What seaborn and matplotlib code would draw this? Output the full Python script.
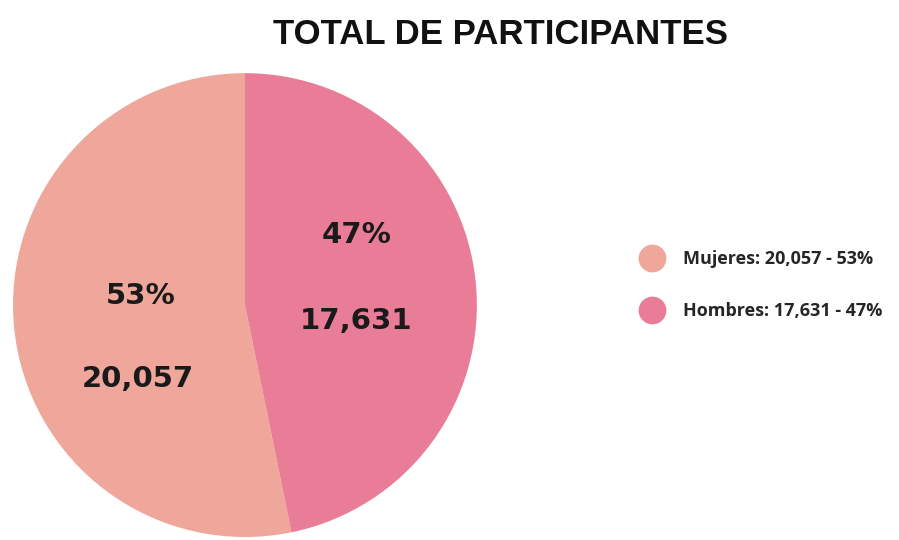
import numpy as np
import matplotlib
matplotlib.use('Agg')
import matplotlib.pyplot as plt
from matplotlib.lines import Line2D
import seaborn as sns

categorias = ['Mujeres', 'Hombres']
valores = [20057, 17631]
porcentajes = [53, 47]

sns.set_theme(style="white")
plt.rcParams['font.family'] = ['DejaVu Sans']
colores = ['#efa79b', '#e97d97']

fig = plt.figure(figsize=(8.99, 5.40), dpi=100)
ax = fig.add_axes([0.01446, 0.00556, 0.516, 0.859])
wedges, _ = ax.pie(valores, colors=colores, startangle=90, counterclock=True,
                   wedgeprops=dict(linewidth=0))
ax.set_xlim(-1, 1)
ax.set_ylim(-1, 1)
ax.set_aspect('equal')

# etiquetas dentro de cada sector
pos_pct = [(-0.45, 0.04), (0.48, 0.30)]
pos_val = [(-0.46, -0.32), (0.48, -0.07)]
for i in range(len(categorias)):
    ax.text(*pos_pct[i], '%d%%' % porcentajes[i], ha='center', va='center',
            fontsize=21, fontweight='bold', color='#1a1a1a')
    ax.text(*pos_val[i], '{:,}'.format(valores[i]), ha='center', va='center',
            fontsize=21, fontweight='bold', color='#1a1a1a')

fig.text(0.557, 0.937, 'TOTAL DE PARTICIPANTES', ha='center', va='center',
         fontsize=25, fontweight='bold', family='Liberation Sans', color='#111111')

handles = [Line2D([0], [0], marker='o', linestyle='', markersize=19,
                  markerfacecolor=c, markeredgecolor=c) for c in colores]
labels = ['%s: %s - %d%%' % (c, '{:,}'.format(v), p)
          for c, v, p in zip(categorias, valores, porcentajes)]
leg = fig.legend(handles, labels, loc='center left', bbox_to_anchor=(0.687, 0.472),
                 frameon=False, labelspacing=1.85, handletextpad=0.7,
                 prop={'family': 'Open Sans', 'weight': 'bold', 'size': 13})

fig.savefig('out.png', dpi=100)
